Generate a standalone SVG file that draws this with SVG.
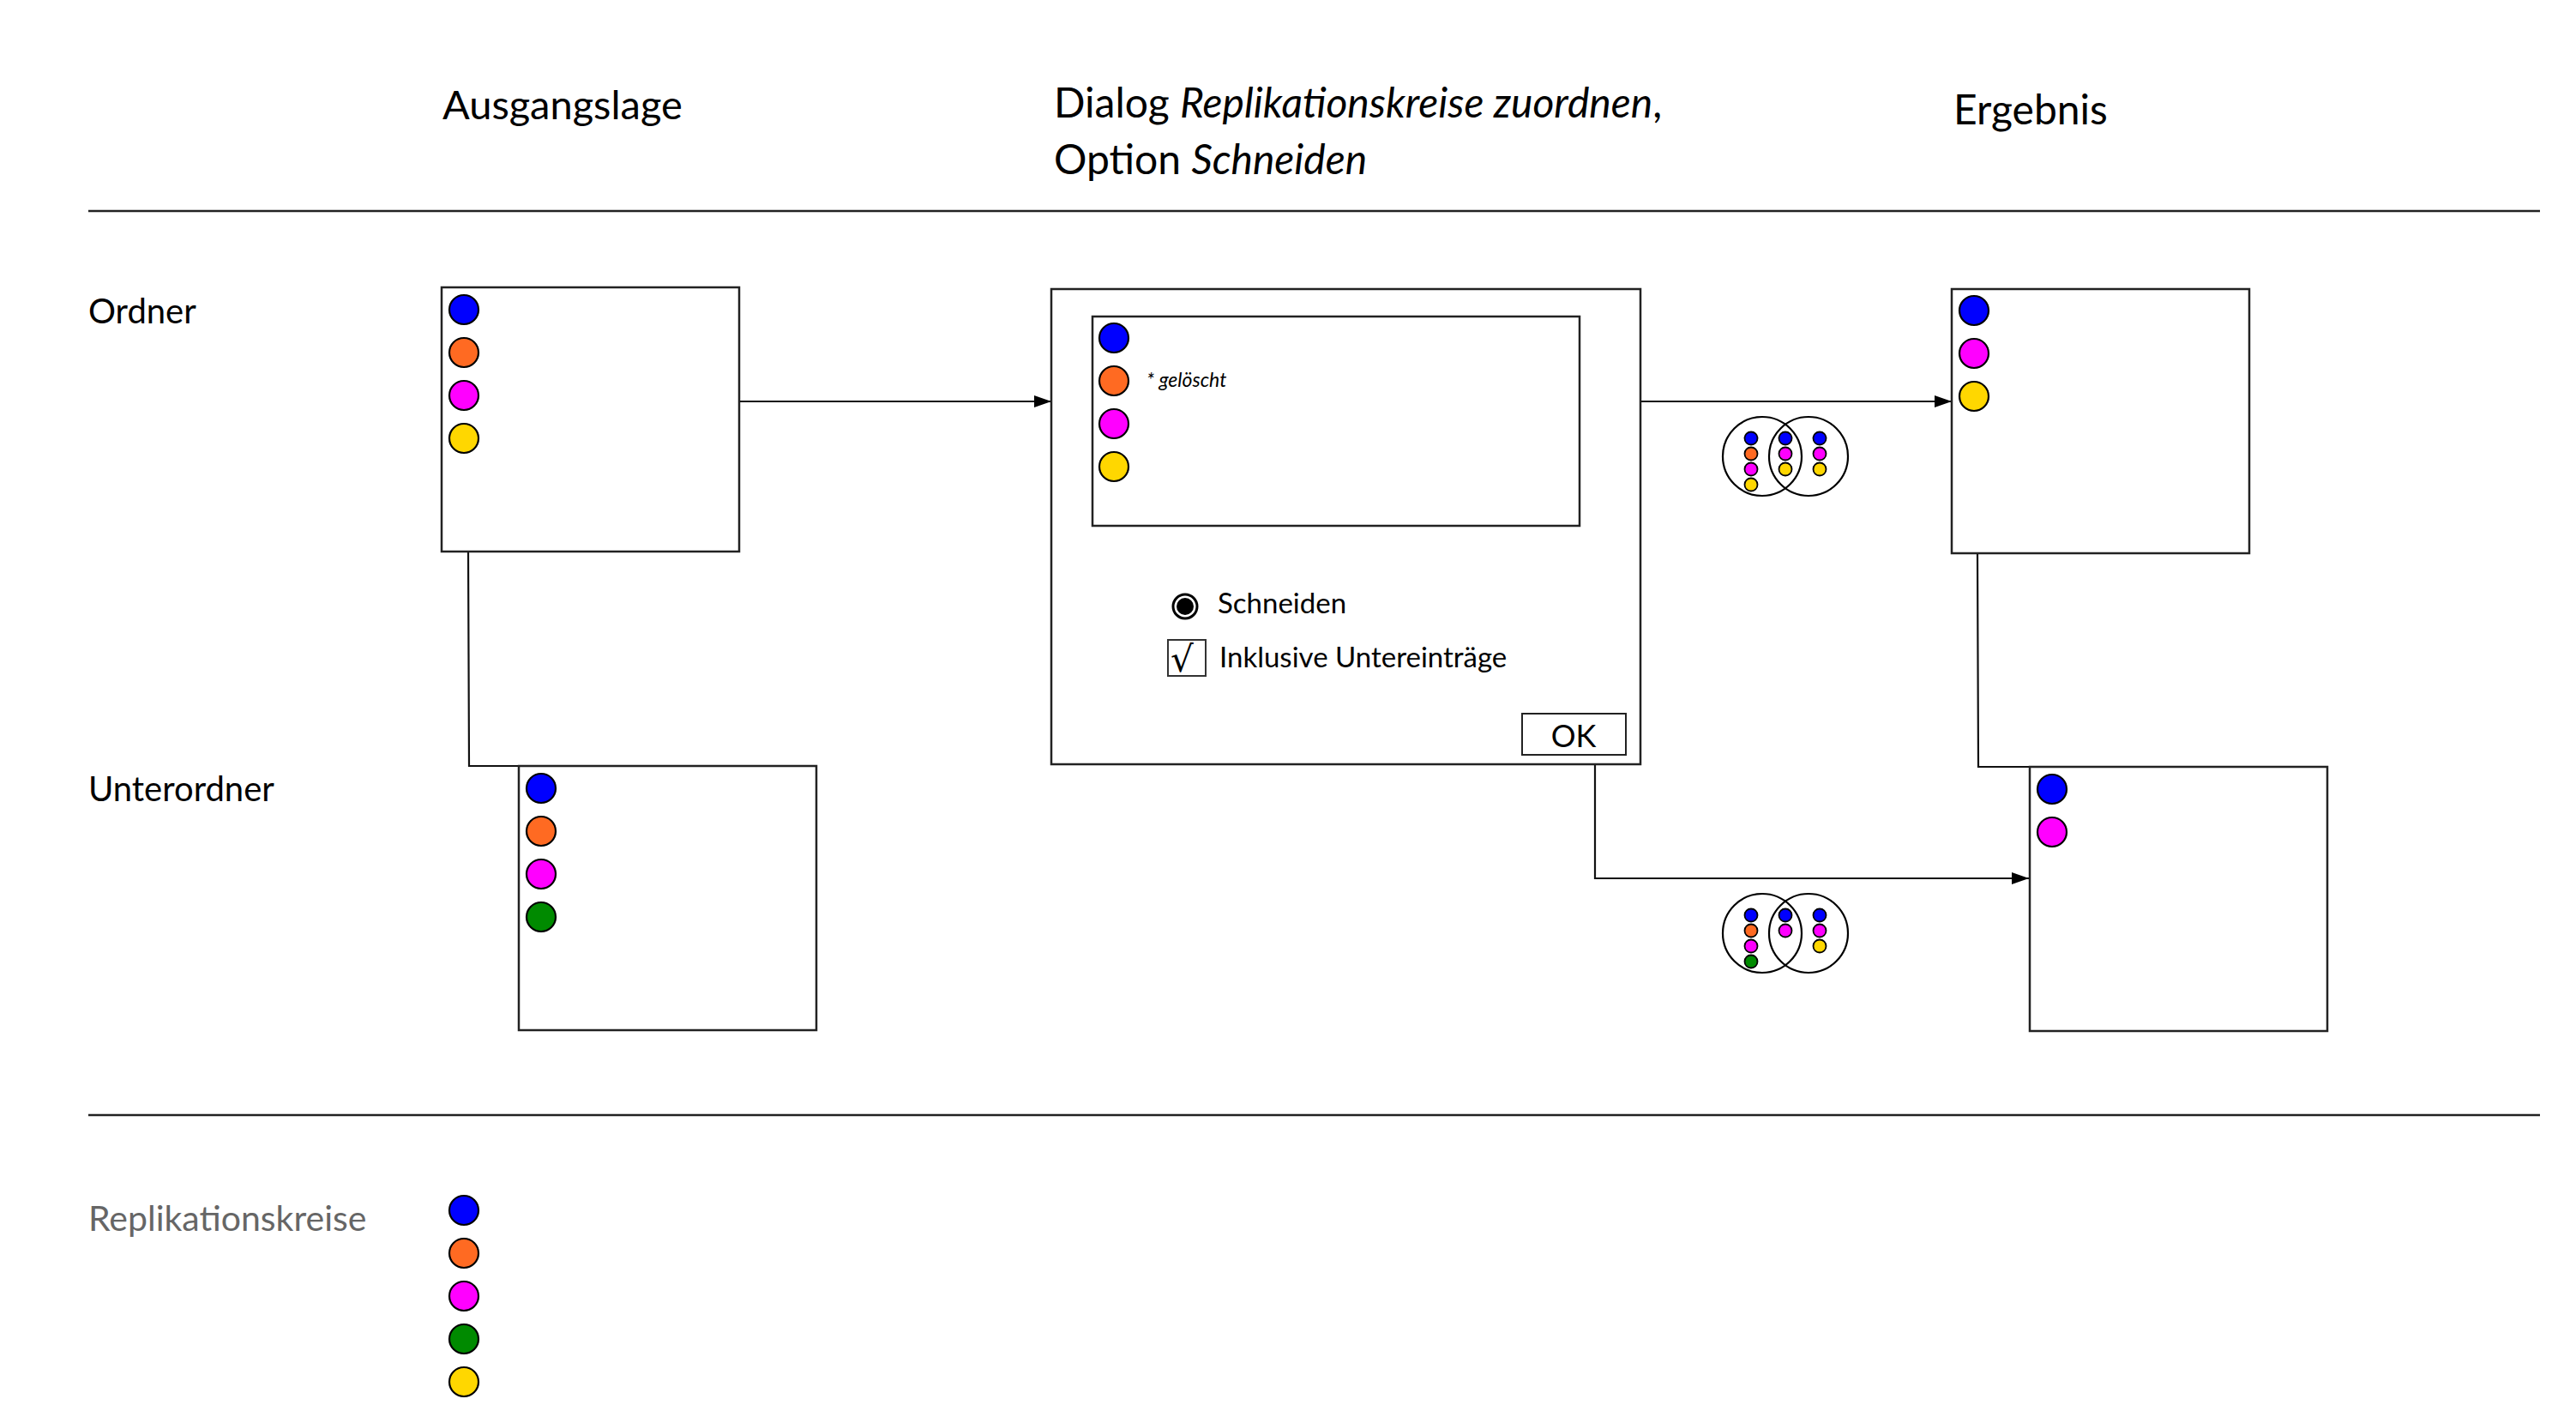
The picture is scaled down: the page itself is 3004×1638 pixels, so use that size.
<svg xmlns="http://www.w3.org/2000/svg" width="3004" height="1638" viewBox="0 0 3004 1638">
<style>
  .t { font-family: Lato, "Noto Sans", sans-serif; fill: #000; }
  .h { font-size: 48px; }
  .lbl { font-size: 40px; }
  .ui { font-size: 33px; }
  .box { fill: #fff; stroke: #222; stroke-width: 2.5; }
  .sep { stroke: #222; stroke-width: 2.5; }
  .con { fill: none; stroke: #111; stroke-width: 2.2; }
  .dot { stroke: #000; stroke-width: 2.2; }
  .sd { stroke: #000; stroke-width: 1.8; }
  .b { fill: #0000ff; } .o { fill: #ff6a22; } .m { fill: #ff00ff; } .y { fill: #ffd700; } .g { fill: #008a00; }
  .venn { fill: none; stroke: #000; stroke-width: 2.2; }
</style>
<defs>
  <marker id="arr" markerWidth="20" markerHeight="14" refX="20" refY="7" orient="auto" markerUnits="userSpaceOnUse">
    <path d="M0,0 L20,7 L0,14 Z" fill="#000"/>
  </marker>
</defs>
<rect width="3004" height="1638" fill="#fff"/>

<g id="headers">
  <text class="t" x="516" y="139" font-size="47">Ausgangslage</text>
  <text class="t h" x="1229" y="137">Dialog <tspan font-style="italic">Replikationskreise zuordnen</tspan>,</text>
  <text class="t h" x="1229" y="203">Option <tspan font-style="italic">Schneiden</tspan></text>
  <text class="t h" x="2278" y="145">Ergebnis</text>
  <line class="sep" x1="103" y1="246" x2="2962" y2="246"/>
  <line class="sep" x1="103" y1="1300" x2="2962" y2="1300"/>
</g>

<g id="row-labels">
  <text class="t lbl" x="103" y="377">Ordner</text>
  <text class="t lbl" x="103" y="934">Unterordner</text>
  <text class="t" x="103" y="1435" font-size="41" style="fill:#666">Replikationskreise</text>
</g>

<g id="connectors">
  <line class="con" x1="863" y1="468" x2="1226" y2="468" marker-end="url(#arr)"/>
  <line class="con" x1="1914" y1="468" x2="2276" y2="468" marker-end="url(#arr)"/>
  <polyline class="con" points="1860,892 1860,1024 2366,1024" marker-end="url(#arr)"/>
  <polyline class="con" points="546,644 547,893 605,893"/>
  <polyline class="con" points="2306,646 2307,894 2367,894"/>
</g>

<g id="ordner-start">
  <rect class="box" x="515" y="335" width="347" height="308"/>
  <circle class="dot b" cx="541" cy="361" r="17"/>
  <circle class="dot o" cx="541" cy="411" r="17"/>
  <circle class="dot m" cx="541" cy="461" r="17"/>
  <circle class="dot y" cx="541" cy="511" r="17"/>
</g>

<g id="unterordner-start">
  <rect class="box" x="605" y="893" width="347" height="308"/>
  <circle class="dot b" cx="631" cy="919" r="17"/>
  <circle class="dot o" cx="631" cy="969" r="17"/>
  <circle class="dot m" cx="631" cy="1019" r="17"/>
  <circle class="dot g" cx="631" cy="1069" r="17"/>
</g>

<g id="dialog">
  <rect class="box" x="1226" y="337" width="687" height="554"/>
  <rect class="box" x="1274" y="369" width="568" height="244"/>
  <circle class="dot b" cx="1299" cy="394" r="17"/>
  <circle class="dot o" cx="1299" cy="444" r="17"/>
  <circle class="dot m" cx="1299" cy="494" r="17"/>
  <circle class="dot y" cx="1299" cy="544" r="17"/>
  <text class="t" x="1337" y="451" font-size="23" font-style="italic">* gelöscht</text>
  <circle cx="1382" cy="707" r="14" fill="#fff" stroke="#000" stroke-width="3"/>
  <circle cx="1382" cy="707" r="10" fill="#000"/>
  <text class="t ui" x="1420" y="715">Schneiden</text>
  <rect x="1362" y="746" width="44" height="42" fill="#fff" stroke="#333" stroke-width="2"/>
  <text x="1365" y="783" font-family="DejaVu Sans, sans-serif" font-size="42">√</text>
  <text class="t ui" x="1422" y="778">Inklusive Untereinträge</text>
  <rect x="1775" y="832" width="121" height="48" fill="#fff" stroke="#222" stroke-width="2"/>
  <text class="t" x="1835" y="871" font-size="36" text-anchor="middle">OK</text>
</g>

<g id="venn-ordner">
  <circle class="venn" cx="2055" cy="532" r="46"/>
  <circle class="venn" cx="2109" cy="532" r="46"/>
  <circle class="sd b" cx="2042" cy="511" r="7.5"/>
  <circle class="sd o" cx="2042" cy="529" r="7.5"/>
  <circle class="sd m" cx="2042" cy="547" r="7.5"/>
  <circle class="sd y" cx="2042" cy="565" r="7.5"/>
  <circle class="sd b" cx="2082" cy="511" r="7.5"/>
  <circle class="sd m" cx="2082" cy="529" r="7.5"/>
  <circle class="sd y" cx="2082" cy="547" r="7.5"/>
  <circle class="sd b" cx="2122" cy="511" r="7.5"/>
  <circle class="sd m" cx="2122" cy="529" r="7.5"/>
  <circle class="sd y" cx="2122" cy="547" r="7.5"/>
</g>

<g id="venn-unterordner">
  <circle class="venn" cx="2055" cy="1088" r="46"/>
  <circle class="venn" cx="2109" cy="1088" r="46"/>
  <circle class="sd b" cx="2042" cy="1067" r="7.5"/>
  <circle class="sd o" cx="2042" cy="1085" r="7.5"/>
  <circle class="sd m" cx="2042" cy="1103" r="7.5"/>
  <circle class="sd g" cx="2042" cy="1121" r="7.5"/>
  <circle class="sd b" cx="2082" cy="1067" r="7.5"/>
  <circle class="sd m" cx="2082" cy="1085" r="7.5"/>
  <circle class="sd b" cx="2122" cy="1067" r="7.5"/>
  <circle class="sd m" cx="2122" cy="1085" r="7.5"/>
  <circle class="sd y" cx="2122" cy="1103" r="7.5"/>
</g>

<g id="ordner-result">
  <rect class="box" x="2276" y="337" width="347" height="308"/>
  <circle class="dot b" cx="2302" cy="362" r="17"/>
  <circle class="dot m" cx="2302" cy="412" r="17"/>
  <circle class="dot y" cx="2302" cy="462" r="17"/>
</g>

<g id="unterordner-result">
  <rect class="box" x="2367" y="894" width="347" height="308"/>
  <circle class="dot b" cx="2393" cy="920" r="17"/>
  <circle class="dot m" cx="2393" cy="970" r="17"/>
</g>

<g id="legend">
  <circle class="dot b" cx="541" cy="1411" r="17"/>
  <circle class="dot o" cx="541" cy="1461" r="17"/>
  <circle class="dot m" cx="541" cy="1511" r="17"/>
  <circle class="dot g" cx="541" cy="1561" r="17"/>
  <circle class="dot y" cx="541" cy="1611" r="17"/>
</g>
</svg>
